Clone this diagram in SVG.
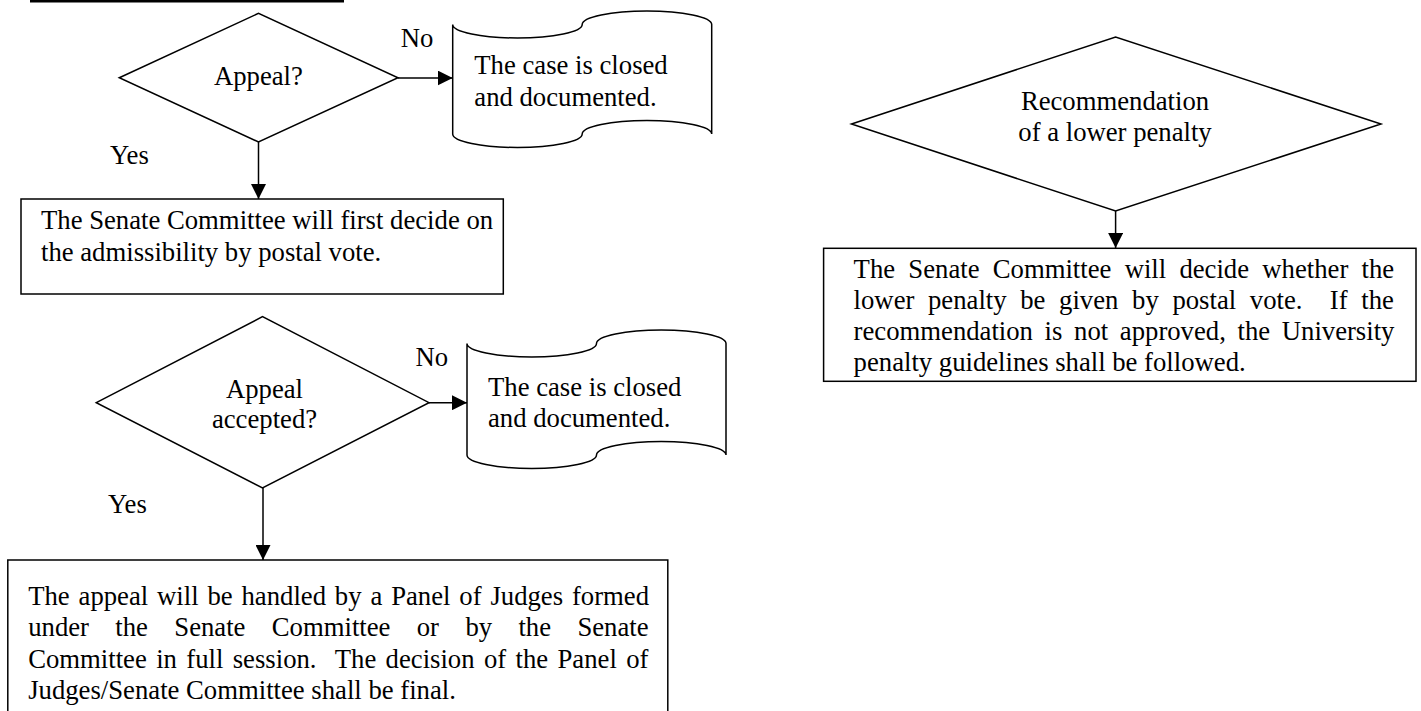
<svg xmlns="http://www.w3.org/2000/svg" width="1421" height="711" viewBox="0 0 1421 711">
  <style>
    .shape { fill: #ffffff; stroke: #000000; stroke-width: 1.5; }
    .conn { fill: none; stroke: #000000; stroke-width: 1.5; }
    text { font-family: "Liberation Serif", "Times New Roman", serif; font-size: 26.7px; fill: #000000; }
    .mid { text-anchor: middle; }
  </style>
  <defs>
    <marker id="arrow" viewBox="0 0 15 15" refX="15" refY="7.5" markerWidth="15" markerHeight="15" markerUnits="userSpaceOnUse" orient="auto">
      <path d="M0,0 L15,7.5 L0,15 Z" fill="#000000"/>
    </marker>
  </defs>
  <rect width="1421" height="711" fill="#ffffff"/>
  <rect x="30" y="0" width="314" height="2.5" fill="#000000"/>

  <g id="connectors">
    <path class="conn" d="M398,78 L452.7,78" marker-end="url(#arrow)"/>
    <path class="conn" d="M258.5,142 L258.5,199" marker-end="url(#arrow)"/>
    <path class="conn" d="M429,402.7 L467,402.7" marker-end="url(#arrow)"/>
    <path class="conn" d="M263,488 L263,560" marker-end="url(#arrow)"/>
    <path class="conn" d="M1115.6,211 L1115.6,248" marker-end="url(#arrow)"/>
    <text x="400.7" y="46.5">No</text>
    <text x="110" y="163.5">Yes</text>
    <text x="415.5" y="366">No</text>
    <text x="108" y="513">Yes</text>
  </g>

  <g id="decision-appeal">
    <polygon class="shape" points="119.3,77.7 258.5,13.3 398,77.7 258.5,142"/>
    <text class="mid" x="258.4" y="84.5">Appeal?</text>
  </g>

  <g id="doc-closed-1">
    <path class="shape" d="M452.7,24.5 A64.75,13.5 0 0 0 582.2,24.5 A64.75,13.5 0 0 1 711.7,24.5 L711.7,134 A64.75,13.5 0 0 0 582.2,134 A64.75,13.5 0 0 1 452.7,134 Z"/>
    <text x="474.3" y="73.5">The case is closed</text>
    <text x="474.3" y="106">and documented.</text>
  </g>

  <g id="process-admissibility">
    <rect class="shape" x="21" y="199" width="482.3" height="95"/>
    <text x="41" y="229">The Senate Committee will first decide on</text>
    <text x="41" y="261">the admissibility by postal vote.</text>
  </g>

  <g id="decision-accepted">
    <polygon class="shape" points="96.3,402.7 262.5,316.7 429,402.7 262.5,488"/>
    <text class="mid" x="264.5" y="397.7">Appeal</text>
    <text class="mid" x="264.5" y="428">accepted?</text>
  </g>

  <g id="doc-closed-2">
    <path class="shape" d="M467,343.5 A64.75,13.5 0 0 0 596.5,343.5 A64.75,13.5 0 0 1 726,343.5 L726,455 A64.75,13.5 0 0 0 596.5,455 A64.75,13.5 0 0 1 467,455 Z"/>
    <text x="488" y="395.5">The case is closed</text>
    <text x="488" y="427">and documented.</text>
  </g>

  <g id="process-panel">
    <rect class="shape" x="7.8" y="560" width="660" height="160"/>
    <text x="28.2" y="605" style="word-spacing:2.2px">The appeal will be handled by a Panel of Judges formed</text>
    <text x="28.2" y="636" style="word-spacing:19.7px">under the Senate Committee or by the Senate</text>
    <text x="28.2" y="667.5" xml:space="preserve" style="word-spacing:2.7px">Committee in full session.  The decision of the Panel of</text>
    <text x="28.2" y="699">Judges/Senate Committee shall be final.</text>
  </g>

  <g id="decision-lower-penalty">
    <polygon class="shape" points="851.5,124 1115.6,37 1381,124 1115.6,211"/>
    <text class="mid" x="1115" y="109.5">Recommendation</text>
    <text class="mid" x="1115" y="140.5">of a lower penalty</text>
  </g>

  <g id="process-lower-penalty">
    <rect class="shape" x="823.6" y="248.3" width="592.4" height="133"/>
    <text x="853.6" y="278" style="word-spacing:6.6px">The Senate Committee will decide whether the</text>
    <text x="853.6" y="309" xml:space="preserve" style="word-spacing:7px">lower penalty be given by postal vote.  If the</text>
    <text x="853.6" y="340" style="word-spacing:5px">recommendation is not approved, the University</text>
    <text x="853.6" y="370.5">penalty guidelines shall be followed.</text>
  </g>
</svg>
